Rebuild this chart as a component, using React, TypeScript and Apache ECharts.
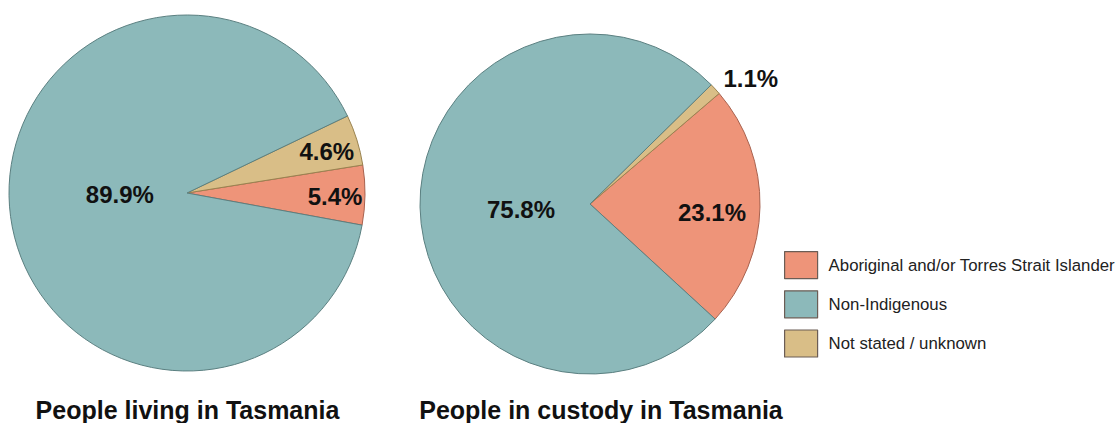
import React, { useEffect, useRef } from "react";
import * as echarts from "echarts";

const categories = ["Aboriginal and/or Torres Strait Islander", "Non-Indigenous", "Not stated / unknown"];
const livingValues = [5.4, 89.9, 4.6];
const custodyValues = [23.1, 75.8, 1.1];
const pieTitles = ["People living in Tasmania", "People in custody in Tasmania"];

const COLORS = ["#EE9479", "#8CB9BA", "#D9BE87"];
const BORDERS = ["#a8624f", "#5b8081", "#9a8350"];
const FONT = "'Liberation Sans', Arial, sans-serif";

// draw order around the pie (counter-clockwise): Aboriginal, Not stated, Non-Indigenous
const ORDER = [0, 2, 1];
// label offsets from the default "inside" anchor, per category index
const livingOffsets: number[][] = [[56, 2], [24, -11], [52, -14]];
const custodyOffsets: number[][] = [[34, 7], [19, 4], [96, -66]];

function buildData(values: number[], offsets: number[][]) {
  return ORDER.map((i) => ({
    name: categories[i],
    value: values[i],
    itemStyle: { color: COLORS[i], borderColor: BORDERS[i], borderWidth: 1 },
    label: { offset: offsets[i] },
  }));
}

export default function App() {
  const ref = useRef<HTMLDivElement>(null);
  useEffect(() => {
    if (!ref.current) return;
    const chart = echarts.init(ref.current, null, { renderer: "svg" });
    const labelStyle = {
      show: true,
      position: "inside",
      rotate: 0,
      formatter: "{c}%",
      fontFamily: FONT,
      fontSize: 24,
      fontWeight: "bold",
      color: "#111",
    };
    const titleStyle = {
      align: "center",
      verticalAlign: "middle",
      fontFamily: FONT,
      fontSize: 25,
      fontWeight: "bold",
      fill: "#111",
    };
    chart.setOption({
      animation: false,
      backgroundColor: "#ffffff",
      legend: {
        orient: "vertical",
        left: 784,
        top: 251,
        padding: 0,
        itemWidth: 33,
        itemHeight: 27,
        itemGap: 11,
        icon: "rect",
        selectedMode: false,
        data: categories.map((c, i) => ({
          name: c,
          itemStyle: { color: COLORS[i], borderColor: "#6b5d55", borderWidth: 1.2 },
        })),
        textStyle: { fontFamily: FONT, fontSize: 16.8, color: "#222", padding: [0, 0, 0, 6] },
      },
      graphic: [
        { type: "text", x: 187.5, y: 410, style: { ...titleStyle, text: pieTitles[0] } },
        { type: "text", x: 601, y: 410, style: { ...titleStyle, text: pieTitles[1] } },
      ],
      series: [
        {
          type: "pie",
          center: [187, 193],
          radius: 178,
          startAngle: -10.4,
          clockwise: false,
          avoidLabelOverlap: false,
          label: labelStyle,
          labelLine: { show: false },
          emphasis: { disabled: true },
          data: buildData(livingValues, livingOffsets),
        },
        {
          type: "pie",
          center: [590, 204],
          radius: 170,
          startAngle: -42.6,
          clockwise: false,
          avoidLabelOverlap: false,
          label: labelStyle,
          labelLine: { show: false },
          emphasis: { disabled: true },
          data: buildData(custodyValues, custodyOffsets),
        },
      ],
    });
    return () => chart.dispose();
  }, []);
  return (
    <div
      ref={ref}
      style={{ position: "absolute", left: 0, top: 0, width: 1116, height: 423 }}
    />
  );
}
